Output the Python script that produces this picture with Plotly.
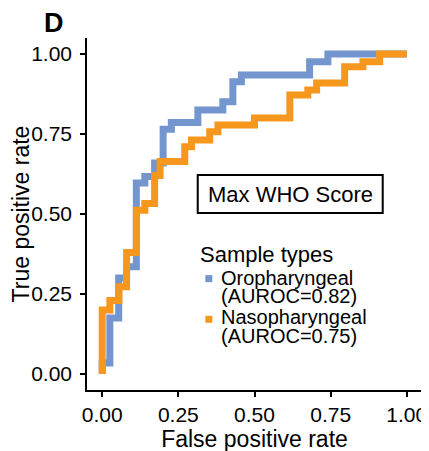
import plotly.graph_objects as go

# ROC step vertices
oro_fpr = [0, 0, 0.025, 0.054, 0.08, 0.112, 0.14, 0.172, 0.2, 0.227, 0.314, 0.396, 0.429, 0.457, 0.681, 0.741, 1.0]
oro_tpr = [0, 0.034, 0.175, 0.30, 0.335, 0.597, 0.617, 0.659, 0.765, 0.786, 0.825, 0.851, 0.913, 0.934, 0.976, 1.0, 1.0]

naso_fpr = [0, 0, 0.025, 0.055, 0.08, 0.112, 0.14, 0.172, 0.19, 0.271, 0.293, 0.353, 0.38, 0.50, 0.616, 0.675, 0.704, 0.796, 0.856, 0.911, 1.0]
naso_tpr = [0, 0.20, 0.23, 0.273, 0.38, 0.512, 0.533, 0.62, 0.664, 0.71, 0.731, 0.757, 0.778, 0.80, 0.872, 0.8875, 0.909, 0.96, 0.976, 1.0, 1.0]

series_names = ["Oropharyngeal", "Nasopharyngeal"]
auroc = ["0.82", "0.75"]
tick_vals = [0, 0.25, 0.5, 0.75, 1.0]
tick_text = ["0.00", "0.25", "0.50", "0.75", "1.00"]

BLUE = "#7396CE"
ORANGE = "#F7981E"
FONT = "Liberation Sans, Arial, Helvetica, sans-serif"

fig = go.Figure()
fig.add_trace(go.Scatter(x=oro_fpr, y=oro_tpr, mode="lines", line=dict(color=BLUE, width=7, shape="hv"),
                         showlegend=False, name=series_names[0]))
fig.add_trace(go.Scatter(x=naso_fpr, y=naso_tpr, mode="lines", line=dict(color=ORANGE, width=7, shape="hv"),
                         showlegend=False, name=series_names[1]))

# legend key squares
fig.add_trace(go.Scatter(x=[0.35, 0.35], y=[0.298, 0.171], mode="markers",
                         marker=dict(symbol="square", size=7, color=[BLUE, ORANGE]),
                         showlegend=False, hoverinfo="skip", cliponaxis=False))

ann = []
ann.append(dict(text="<b>D</b>", xref="paper", yref="paper", x=-0.1, y=1.042,
                xanchor="center", yanchor="middle", showarrow=False, font=dict(size=27, color="black", family=FONT)))
ann.append(dict(text="Max WHO Score", xref="x", yref="y", x=0.617, y=0.5625,
                xanchor="center", yanchor="middle", showarrow=False, font=dict(size=22, color="black", family=FONT)))
ann.append(dict(text="Sample types", xref="x", yref="y", x=0.315, y=0.372,
                xanchor="left", yanchor="middle", showarrow=False, font=dict(size=22, color="black", family=FONT)))
lines_y = [(0.299, 0.243), (0.177, 0.12)]
for i, nm in enumerate(series_names):
    ann.append(dict(text=nm, xref="x", yref="y", x=0.383, y=lines_y[i][0], xanchor="left", yanchor="middle",
                    showarrow=False, font=dict(size=20, color="black", family=FONT)))
    ann.append(dict(text="(AUROC=%s)" % auroc[i], xref="x", yref="y", x=0.383, y=lines_y[i][1], xanchor="left",
                    yanchor="middle", showarrow=False, font=dict(size=20, color="black", family=FONT)))

# the page body adds an 8px offset, so margins compensate for it
fig.update_layout(
    width=429, height=451,
    margin=dict(l=79.3, r=14.8, t=30, b=69, pad=0),
    paper_bgcolor="white", plot_bgcolor="white",
    font=dict(family=FONT, color="black"),
    annotations=ann,
    shapes=[dict(type="rect", xref="x", yref="y", x0=0.3136, x1=0.921, y0=0.503, y1=0.622,
                 line=dict(color="black", width=2), fillcolor="rgba(0,0,0,0)")],
    showlegend=False,
)
axis_common = dict(range=[-0.05, 1.05], tickvals=tick_vals, ticktext=tick_text, showgrid=False, zeroline=False,
                   showline=True, linecolor="black", linewidth=1.6, ticks="outside", ticklen=5, tickwidth=1.5,
                   tickcolor="black", tickfont=dict(size=21, color="black", family=FONT), automargin=False)
fig.update_xaxes(**axis_common, title=dict(text="False positive rate", font=dict(size=23, color="black", family=FONT), standoff=2))
fig.update_yaxes(**axis_common, ticklabelstandoff=4,
                 title=dict(text="True positive rate", font=dict(size=23, color="black", family=FONT), standoff=6))

fig.write_html("out.html")
